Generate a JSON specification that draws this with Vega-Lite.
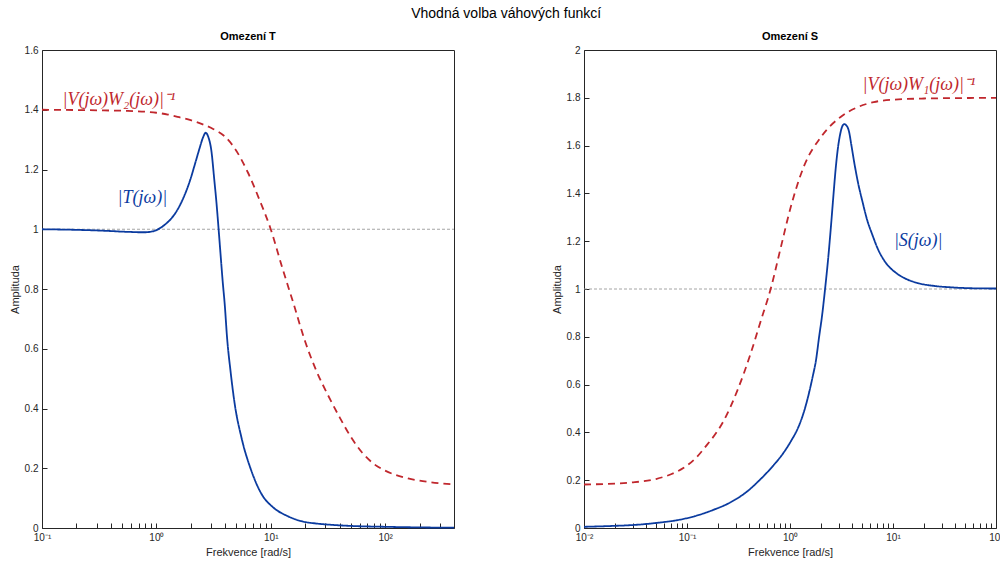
{
  "$schema": "https://vega.github.io/schema/vega-lite/v6.json",
  "background": "white",
  "padding": {"left": 8, "top": 6, "right": 0, "bottom": 0},
  "title": {"text": "Vhodná volba váhových funkcí", "fontSize": 14, "fontWeight": "normal", "color": "#000000", "anchor": "middle", "offset": 10, "font": "Liberation Sans"},
  "spacing": 91,
  "config": {
    "font": "Liberation Sans",
    "view": {"stroke": "#262626", "strokeWidth": 1},
    "axis": {"labelFont": "Liberation Sans", "labelFontSize": 10, "labelColor": "#262626", "titleFont": "Liberation Sans", "titleFontSize": 11, "titleFontWeight": "normal", "titleColor": "#262626", "grid": false, "labelFlush": false, "labelOverlap": false}
  },
  "datasets": {
    "refLeft": [{"w": 0.1, "a": 1}, {"w": 400, "a": 1}],
    "refRight": [{"w": 0.01, "a": 1}, {"w": 100, "a": 1}],
    "left": [
      {"s": "blue", "w": 0.1, "a": 1.0}, {"s": "blue", "w": 0.15, "a": 0.999}, {"s": "blue", "w": 0.2, "a": 0.998}, {"s": "blue", "w": 0.3, "a": 0.996}, {"s": "blue", "w": 0.4, "a": 0.994}, {"s": "blue", "w": 0.5, "a": 0.992}, {"s": "blue", "w": 0.6, "a": 0.991}, {"s": "blue", "w": 0.7, "a": 0.99}, {"s": "blue", "w": 0.8, "a": 0.99}, {"s": "blue", "w": 0.9, "a": 0.992}, {"s": "blue", "w": 1.0, "a": 0.997}, {"s": "blue", "w": 1.1, "a": 1.006}, {"s": "blue", "w": 1.2, "a": 1.017}, {"s": "blue", "w": 1.35, "a": 1.036}, {"s": "blue", "w": 1.5, "a": 1.06}, {"s": "blue", "w": 1.7, "a": 1.1}, {"s": "blue", "w": 1.96, "a": 1.161}, {"s": "blue", "w": 2.2, "a": 1.225}, {"s": "blue", "w": 2.39, "a": 1.272}, {"s": "blue", "w": 2.55, "a": 1.306}, {"s": "blue", "w": 2.7, "a": 1.323}, {"s": "blue", "w": 2.85, "a": 1.308}, {"s": "blue", "w": 3.03, "a": 1.261}, {"s": "blue", "w": 3.2, "a": 1.17}, {"s": "blue", "w": 3.35, "a": 1.09}, {"s": "blue", "w": 3.5, "a": 1.0}, {"s": "blue", "w": 3.65, "a": 0.91}, {"s": "blue", "w": 3.8, "a": 0.825}, {"s": "blue", "w": 3.96, "a": 0.748}, {"s": "blue", "w": 4.15, "a": 0.637}, {"s": "blue", "w": 4.45, "a": 0.525}, {"s": "blue", "w": 4.85, "a": 0.413}, {"s": "blue", "w": 5.55, "a": 0.302}, {"s": "blue", "w": 6.79, "a": 0.19}, {"s": "blue", "w": 8.3, "a": 0.114}, {"s": "blue", "w": 10.5, "a": 0.069}, {"s": "blue", "w": 14, "a": 0.04}, {"s": "blue", "w": 18, "a": 0.024}, {"s": "blue", "w": 25, "a": 0.015}, {"s": "blue", "w": 33, "a": 0.011}, {"s": "blue", "w": 50, "a": 0.007}, {"s": "blue", "w": 100, "a": 0.004}, {"s": "blue", "w": 200, "a": 0.002}, {"s": "blue", "w": 400, "a": 0.001},
      {"s": "red", "w": 0.1, "a": 1.4}, {"s": "red", "w": 0.316, "a": 1.398}, {"s": "red", "w": 0.562, "a": 1.396}, {"s": "red", "w": 1.0, "a": 1.39}, {"s": "red", "w": 1.259, "a": 1.384}, {"s": "red", "w": 1.585, "a": 1.375}, {"s": "red", "w": 1.995, "a": 1.365}, {"s": "red", "w": 2.512, "a": 1.352}, {"s": "red", "w": 3.162, "a": 1.335}, {"s": "red", "w": 3.981, "a": 1.31}, {"s": "red", "w": 5.012, "a": 1.262}, {"s": "red", "w": 6.31, "a": 1.19}, {"s": "red", "w": 7.943, "a": 1.1}, {"s": "red", "w": 10, "a": 1.0}, {"s": "red", "w": 12.59, "a": 0.872}, {"s": "red", "w": 15.85, "a": 0.75}, {"s": "red", "w": 19.95, "a": 0.625}, {"s": "red", "w": 25.12, "a": 0.525}, {"s": "red", "w": 31.62, "a": 0.445}, {"s": "red", "w": 39.81, "a": 0.372}, {"s": "red", "w": 50.12, "a": 0.305}, {"s": "red", "w": 63.1, "a": 0.252}, {"s": "red", "w": 79.43, "a": 0.215}, {"s": "red", "w": 100, "a": 0.192}, {"s": "red", "w": 158.5, "a": 0.166}, {"s": "red", "w": 251.2, "a": 0.153}, {"s": "red", "w": 400, "a": 0.146}
    ],
    "right": [
      {"s": "blue", "w": 0.01, "a": 0.005}, {"s": "blue", "w": 0.02, "a": 0.009}, {"s": "blue", "w": 0.03, "a": 0.0125}, {"s": "blue", "w": 0.05, "a": 0.021}, {"s": "blue", "w": 0.0867, "a": 0.0355}, {"s": "blue", "w": 0.12, "a": 0.05}, {"s": "blue", "w": 0.183, "a": 0.077}, {"s": "blue", "w": 0.25, "a": 0.102}, {"s": "blue", "w": 0.386, "a": 0.154}, {"s": "blue", "w": 0.5, "a": 0.198}, {"s": "blue", "w": 0.7, "a": 0.265}, {"s": "blue", "w": 0.85, "a": 0.31}, {"s": "blue", "w": 1.02, "a": 0.363}, {"s": "blue", "w": 1.2, "a": 0.42}, {"s": "blue", "w": 1.37, "a": 0.488}, {"s": "blue", "w": 1.5, "a": 0.55}, {"s": "blue", "w": 1.65, "a": 0.628}, {"s": "blue", "w": 1.8, "a": 0.71}, {"s": "blue", "w": 1.91, "a": 0.795}, {"s": "blue", "w": 2.05, "a": 0.89}, {"s": "blue", "w": 2.19, "a": 1.0}, {"s": "blue", "w": 2.35, "a": 1.13}, {"s": "blue", "w": 2.49, "a": 1.255}, {"s": "blue", "w": 2.65, "a": 1.4}, {"s": "blue", "w": 2.78, "a": 1.506}, {"s": "blue", "w": 2.92, "a": 1.59}, {"s": "blue", "w": 3.06, "a": 1.645}, {"s": "blue", "w": 3.2, "a": 1.678}, {"s": "blue", "w": 3.35, "a": 1.69}, {"s": "blue", "w": 3.5, "a": 1.686}, {"s": "blue", "w": 3.74, "a": 1.659}, {"s": "blue", "w": 3.95, "a": 1.6}, {"s": "blue", "w": 4.19, "a": 1.533}, {"s": "blue", "w": 4.6, "a": 1.44}, {"s": "blue", "w": 5.05, "a": 1.366}, {"s": "blue", "w": 5.6, "a": 1.29}, {"s": "blue", "w": 6.3, "a": 1.227}, {"s": "blue", "w": 7.07, "a": 1.171}, {"s": "blue", "w": 8.5, "a": 1.11}, {"s": "blue", "w": 10.3, "a": 1.073}, {"s": "blue", "w": 13, "a": 1.045}, {"s": "blue", "w": 17.3, "a": 1.025}, {"s": "blue", "w": 25, "a": 1.013}, {"s": "blue", "w": 36.4, "a": 1.007}, {"s": "blue", "w": 60, "a": 1.003}, {"s": "blue", "w": 100, "a": 1.002},
      {"s": "red", "w": 0.01, "a": 0.182}, {"s": "red", "w": 0.02, "a": 0.186}, {"s": "red", "w": 0.03, "a": 0.191}, {"s": "red", "w": 0.05, "a": 0.205}, {"s": "red", "w": 0.07, "a": 0.225}, {"s": "red", "w": 0.093, "a": 0.252}, {"s": "red", "w": 0.12, "a": 0.29}, {"s": "red", "w": 0.157, "a": 0.349}, {"s": "red", "w": 0.19, "a": 0.395}, {"s": "red", "w": 0.228, "a": 0.45}, {"s": "red", "w": 0.308, "a": 0.575}, {"s": "red", "w": 0.415, "a": 0.73}, {"s": "red", "w": 0.519, "a": 0.865}, {"s": "red", "w": 0.649, "a": 1.0}, {"s": "red", "w": 0.81, "a": 1.17}, {"s": "red", "w": 1.02, "a": 1.345}, {"s": "red", "w": 1.37, "a": 1.515}, {"s": "red", "w": 1.99, "a": 1.635}, {"s": "red", "w": 3.1, "a": 1.72}, {"s": "red", "w": 4.5, "a": 1.76}, {"s": "red", "w": 6.5, "a": 1.782}, {"s": "red", "w": 10, "a": 1.792}, {"s": "red", "w": 20, "a": 1.797}, {"s": "red", "w": 50, "a": 1.799}, {"s": "red", "w": 100, "a": 1.8}
    ],
    "labelsLeft": [
      {"s": "red", "w": 0.151, "a": 1.434, "t": "|V(jω)W₂(jω)|⁻¹"},
      {"s": "blue", "w": 0.458, "a": 1.103, "t": "|T(jω)|"}
    ],
    "labelsRight": [
      {"s": "red", "w": 5.05, "a": 1.854, "t": "|V(jω)W₁(jω)|⁻¹"},
      {"s": "blue", "w": 10.2, "a": 1.2, "t": "|S(jω)|"}
    ]
  },
  "hconcat": [
    {
      "width": 412,
      "height": 478,
      "title": {"text": "Omezení T", "fontSize": 11, "fontWeight": "bold", "color": "#000000", "offset": 3, "font": "Liberation Sans"},
      "layer": [
        {
          "data": {"name": "refLeft"},
          "mark": {"type": "line", "color": "#9a9a9a", "strokeDash": [3, 2], "strokeWidth": 0.9},
          "encoding": {
            "x": {"field": "w", "type": "quantitative", "scale": {"type": "log", "domain": [0.1, 400], "nice": false},
              "axis": {"orient": "bottom", "title": "Frekvence [rad/s]", "offset": -5, "tickSize": 5, "tickColor": "#262626", "tickWidth": 1, "domain": false, "labelPadding": 4, "titlePadding": 4, "values": [0.1, 0.2, 0.3, 0.4, 0.5, 0.6, 0.7, 0.8, 0.9, 1, 2, 3, 4, 5, 6, 7, 8, 9, 10, 20, 30, 40, 50, 60, 70, 80, 90, 100, 200, 300, 400],
                "labelExpr": "datum.value == 0.1 ? '10⁻¹' : datum.value == 1 ? '10⁰' : datum.value == 10 ? '10¹' : datum.value == 100 ? '10²' : ''"}},
            "y": {"field": "a", "type": "quantitative", "scale": {"domain": [0, 1.6], "nice": false},
              "axis": {"orient": "left", "title": "Amplituda", "offset": -5, "tickSize": 5, "tickColor": "#262626", "tickWidth": 1, "domain": false, "labelPadding": 4, "titlePadding": 4, "values": [0, 0.2, 0.4, 0.6, 0.8, 1, 1.2, 1.4, 1.6], "format": "~g"}}
          }
        },
        {
          "data": {"name": "left"},
          "mark": {"type": "line", "interpolate": "monotone", "strokeWidth": 1.8},
          "encoding": {
            "x": {"field": "w", "type": "quantitative", "scale": {"type": "log", "domain": [0.1, 400], "nice": false},
              "axis": {"orient": "bottom", "title": "Frekvence [rad/s]", "offset": -5, "tickSize": 5, "tickColor": "#262626", "tickWidth": 1, "domain": false, "labelPadding": 4, "titlePadding": 4, "values": [0.1, 0.2, 0.3, 0.4, 0.5, 0.6, 0.7, 0.8, 0.9, 1, 2, 3, 4, 5, 6, 7, 8, 9, 10, 20, 30, 40, 50, 60, 70, 80, 90, 100, 200, 300, 400],
                "labelExpr": "datum.value == 0.1 ? '10⁻¹' : datum.value == 1 ? '10⁰' : datum.value == 10 ? '10¹' : datum.value == 100 ? '10²' : ''"}},
            "y": {"field": "a", "type": "quantitative", "scale": {"domain": [0, 1.6], "nice": false},
              "axis": {"orient": "left", "title": "Amplituda", "offset": -5, "tickSize": 5, "tickColor": "#262626", "tickWidth": 1, "domain": false, "labelPadding": 4, "titlePadding": 4, "values": [0, 0.2, 0.4, 0.6, 0.8, 1, 1.2, 1.4, 1.6], "format": "~g"}},
            "color": {"field": "s", "type": "nominal", "scale": {"domain": ["blue", "red"], "range": ["#0b3b9f", "#c0272d"]}, "legend": null},
            "strokeDash": {"field": "s", "type": "nominal", "scale": {"domain": ["blue", "red"], "range": [[1, 0], [7, 5]]}, "legend": null}
          }
        },
        {
          "data": {"name": "labelsLeft"},
          "mark": {"type": "text", "font": "Liberation Serif", "fontStyle": "italic", "fontSize": 18, "align": "left", "baseline": "middle"},
          "encoding": {
            "x": {"field": "w", "type": "quantitative",
              "axis": {"orient": "bottom", "title": "Frekvence [rad/s]", "offset": -5, "tickSize": 5, "tickColor": "#262626", "tickWidth": 1, "domain": false, "labelPadding": 4, "titlePadding": 4, "values": [0.1, 0.2, 0.3, 0.4, 0.5, 0.6, 0.7, 0.8, 0.9, 1, 2, 3, 4, 5, 6, 7, 8, 9, 10, 20, 30, 40, 50, 60, 70, 80, 90, 100, 200, 300, 400],
                "labelExpr": "datum.value == 0.1 ? '10⁻¹' : datum.value == 1 ? '10⁰' : datum.value == 10 ? '10¹' : datum.value == 100 ? '10²' : ''"}},
            "y": {"field": "a", "type": "quantitative",
              "axis": {"orient": "left", "title": "Amplituda", "offset": -5, "tickSize": 5, "tickColor": "#262626", "tickWidth": 1, "domain": false, "labelPadding": 4, "titlePadding": 4, "values": [0, 0.2, 0.4, 0.6, 0.8, 1, 1.2, 1.4, 1.6], "format": "~g"}},
            "text": {"field": "t"},
            "color": {"field": "s", "type": "nominal", "legend": null}
          }
        }
      ]
    },
    {
      "width": 412,
      "height": 478,
      "title": {"text": "Omezení S", "fontSize": 11, "fontWeight": "bold", "color": "#000000", "offset": 3, "font": "Liberation Sans"},
      "layer": [
        {
          "data": {"name": "refRight"},
          "mark": {"type": "line", "color": "#9a9a9a", "strokeDash": [3, 2], "strokeWidth": 0.9},
          "encoding": {
            "x": {"field": "w", "type": "quantitative", "scale": {"type": "log", "domain": [0.01, 100], "nice": false},
              "axis": {"orient": "bottom", "title": "Frekvence [rad/s]", "offset": -5, "tickSize": 5, "tickColor": "#262626", "tickWidth": 1, "domain": false, "labelPadding": 4, "titlePadding": 4, "values": [0.01, 0.02, 0.03, 0.04, 0.05, 0.06, 0.07, 0.08, 0.09, 0.1, 0.2, 0.3, 0.4, 0.5, 0.6, 0.7, 0.8, 0.9, 1, 2, 3, 4, 5, 6, 7, 8, 9, 10, 20, 30, 40, 50, 60, 70, 80, 90, 100],
                "labelExpr": "datum.value == 0.01 ? '10⁻²' : datum.value == 0.1 ? '10⁻¹' : datum.value == 1 ? '10⁰' : datum.value == 10 ? '10¹' : datum.value == 100 ? '10²' : ''"}},
            "y": {"field": "a", "type": "quantitative", "scale": {"domain": [0, 2], "nice": false},
              "axis": {"orient": "left", "title": "Amplituda", "offset": -5, "tickSize": 5, "tickColor": "#262626", "tickWidth": 1, "domain": false, "labelPadding": 4, "titlePadding": 4, "values": [0, 0.2, 0.4, 0.6, 0.8, 1, 1.2, 1.4, 1.6, 1.8, 2], "format": "~g"}}
          }
        },
        {
          "data": {"name": "right"},
          "mark": {"type": "line", "interpolate": "monotone", "strokeWidth": 1.8},
          "encoding": {
            "x": {"field": "w", "type": "quantitative", "scale": {"type": "log", "domain": [0.01, 100], "nice": false},
              "axis": {"orient": "bottom", "title": "Frekvence [rad/s]", "offset": -5, "tickSize": 5, "tickColor": "#262626", "tickWidth": 1, "domain": false, "labelPadding": 4, "titlePadding": 4, "values": [0.01, 0.02, 0.03, 0.04, 0.05, 0.06, 0.07, 0.08, 0.09, 0.1, 0.2, 0.3, 0.4, 0.5, 0.6, 0.7, 0.8, 0.9, 1, 2, 3, 4, 5, 6, 7, 8, 9, 10, 20, 30, 40, 50, 60, 70, 80, 90, 100],
                "labelExpr": "datum.value == 0.01 ? '10⁻²' : datum.value == 0.1 ? '10⁻¹' : datum.value == 1 ? '10⁰' : datum.value == 10 ? '10¹' : datum.value == 100 ? '10²' : ''"}},
            "y": {"field": "a", "type": "quantitative", "scale": {"domain": [0, 2], "nice": false},
              "axis": {"orient": "left", "title": "Amplituda", "offset": -5, "tickSize": 5, "tickColor": "#262626", "tickWidth": 1, "domain": false, "labelPadding": 4, "titlePadding": 4, "values": [0, 0.2, 0.4, 0.6, 0.8, 1, 1.2, 1.4, 1.6, 1.8, 2], "format": "~g"}},
            "color": {"field": "s", "type": "nominal", "scale": {"domain": ["blue", "red"], "range": ["#0b3b9f", "#c0272d"]}, "legend": null},
            "strokeDash": {"field": "s", "type": "nominal", "scale": {"domain": ["blue", "red"], "range": [[1, 0], [7, 5]]}, "legend": null}
          }
        },
        {
          "data": {"name": "labelsRight"},
          "mark": {"type": "text", "font": "Liberation Serif", "fontStyle": "italic", "fontSize": 18, "align": "left", "baseline": "middle"},
          "encoding": {
            "x": {"field": "w", "type": "quantitative",
              "axis": {"orient": "bottom", "title": "Frekvence [rad/s]", "offset": -5, "tickSize": 5, "tickColor": "#262626", "tickWidth": 1, "domain": false, "labelPadding": 4, "titlePadding": 4, "values": [0.01, 0.02, 0.03, 0.04, 0.05, 0.06, 0.07, 0.08, 0.09, 0.1, 0.2, 0.3, 0.4, 0.5, 0.6, 0.7, 0.8, 0.9, 1, 2, 3, 4, 5, 6, 7, 8, 9, 10, 20, 30, 40, 50, 60, 70, 80, 90, 100],
                "labelExpr": "datum.value == 0.01 ? '10⁻²' : datum.value == 0.1 ? '10⁻¹' : datum.value == 1 ? '10⁰' : datum.value == 10 ? '10¹' : datum.value == 100 ? '10²' : ''"}},
            "y": {"field": "a", "type": "quantitative",
              "axis": {"orient": "left", "title": "Amplituda", "offset": -5, "tickSize": 5, "tickColor": "#262626", "tickWidth": 1, "domain": false, "labelPadding": 4, "titlePadding": 4, "values": [0, 0.2, 0.4, 0.6, 0.8, 1, 1.2, 1.4, 1.6, 1.8, 2], "format": "~g"}},
            "text": {"field": "t"},
            "color": {"field": "s", "type": "nominal", "legend": null}
          }
        }
      ]
    }
  ]
}
